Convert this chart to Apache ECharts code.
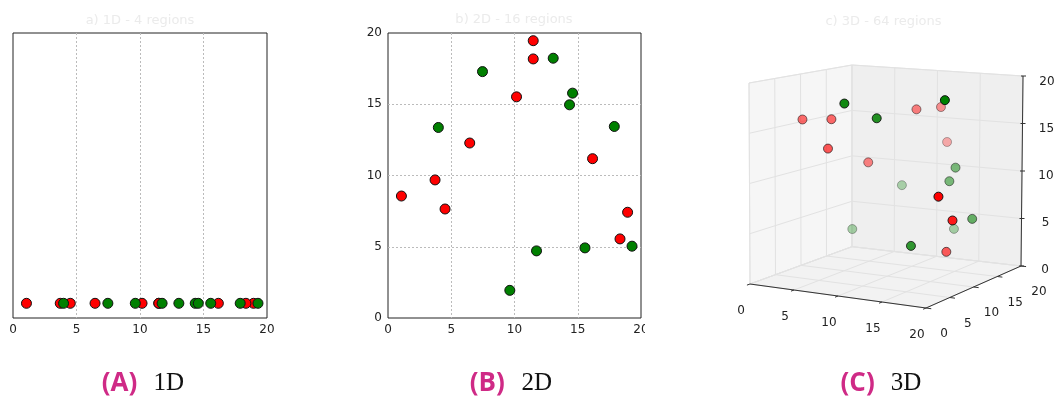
<!DOCTYPE html>
<html><head><meta charset="utf-8">
<script src="https://cdn.jsdelivr.net/npm/echarts@6/dist/echarts.min.js"></script>
<style>html,body{margin:0;padding:0;background:#fff}#c{width:1059px;height:401px}</style>
</head><body><div id="c"></div><script>
// ---------------- data ----------------
const tickValues = [0, 5, 10, 15, 20];
const redX   = [1.06, 3.72, 4.51, 6.46, 10.16, 11.48, 11.48, 16.17, 18.94, 18.34];
const redY   = [8.56, 9.69, 7.65, 12.28, 15.52, 19.46, 18.18, 11.18, 7.42, 5.55];
const redZ   = [15.5, 15.6, 12.9, 11.0, 16.4, 12.5, 16.4, 2.9, 7.0, 9.6];
const greenX = [3.98, 7.47, 9.63, 11.74, 13.06, 14.35, 14.59, 15.57, 17.89, 19.29];
const greenY = [13.37, 17.29, 1.94, 4.71, 18.23, 14.96, 15.78, 4.92, 13.44, 5.04];
const greenZ = [3.6, 7.9, 18.5, 16.9, 3.6, 9.3, 10.6, 4.6, 6.0, 19.2];
const panelTitles = ['a) 1D - 4 regions', 'b) 2D - 16 regions', 'c) 3D - 64 regions'];
const captionLetters = ['(A)', '(B)', '(C)'];
const captionWords = ['1D', '2D', '3D'];

// ---------------- layout / style ----------------
const AX_MIN = 0, AX_MAX = 20;
const RED = '#ff0000', GREEN = '#008000';
const FONT = '"DejaVu Sans", sans-serif';
// screen positions of the 8 corners of the 3D axes box (perspective approximated trilinearly)
const BOX = {
  c000: [750, 284], c100: [926, 308], c010: [852, 246.7], c110: [1021, 266],
  c001: [749, 83],  c101: [927, 98],  c011: [852, 65],    c111: [1023, 76]
};
const VIEW_AZ = 27.6 * Math.PI / 180, VIEW_EL = 15 * Math.PI / 180;

function lerp(a, b, f) { return [a[0] + (b[0] - a[0]) * f, a[1] + (b[1] - a[1]) * f]; }
function proj(x, y, z) {
  const s = (x - AX_MIN) / (AX_MAX - AX_MIN), t = (y - AX_MIN) / (AX_MAX - AX_MIN), r = (z - AX_MIN) / (AX_MAX - AX_MIN);
  const b0 = lerp(lerp(BOX.c000, BOX.c100, s), lerp(BOX.c010, BOX.c110, s), t);
  const b1 = lerp(lerp(BOX.c001, BOX.c101, s), lerp(BOX.c011, BOX.c111, s), t);
  return lerp(b0, b1, r);
}
function nearness(x, y, z) {
  return Math.cos(VIEW_EL) * (x * Math.sin(VIEW_AZ) - y * Math.cos(VIEW_AZ)) + Math.sin(VIEW_EL) * z;
}
function scatter3D(xs, ys, zs) {
  const d = xs.map((x, i) => nearness(x, ys[i], zs[i]));
  const mn = Math.min(...d), mx = Math.max(...d);
  return xs.map((x, i) => ({
    value: proj(x, ys[i], zs[i]),
    itemStyle: { opacity: 1 - 0.7 * (mx - d[i]) / (mx - mn) }
  }));
}

const chart = echarts.init(document.getElementById('c'), null, { renderer: 'canvas' });

const gridBase = { show: true, borderColor: '#222', borderWidth: 1, backgroundColor: '#fff', outerBoundsMode: 'none', containLabel: false };
const valAxis = (gi, show) => ({
  type: 'value', gridIndex: gi, min: AX_MIN, max: AX_MAX, interval: 5,
  axisLine: { show: false }, axisTick: { show: false },
  axisLabel: { show: show, color: '#222', fontSize: 12, fontFamily: FONT, margin: 6 },
  splitLine: { show: true, showMinLine: false, showMaxLine: false, lineStyle: { color: '#bbb', type: [2, 2], width: 1 } }
});
const markStyle = (c) => ({ color: c, borderColor: '#111', borderWidth: 1, opacity: 1 });

function boxRender(params, api) {
  if (params.dataIndex !== 0) return null;
  const P = (x, y, z) => api.coord(proj(x, y, z));
  const ch = [];
  const poly = (pts, fill) => ch.push({ type: 'polygon', shape: { points: pts }, style: { fill: fill, stroke: '#e6e6e6', lineWidth: 1 } });
  const seg = (a, b, stroke, w) => ch.push({ type: 'line', shape: { x1: a[0], y1: a[1], x2: b[0], y2: b[1] }, style: { stroke: stroke, lineWidth: w } });
  const L = AX_MIN, H = AX_MAX;
  poly([P(L, L, L), P(L, H, L), P(L, H, H), P(L, L, H)], '#f6f6f6');
  poly([P(L, H, L), P(H, H, L), P(H, H, H), P(L, H, H)], '#efefef');
  poly([P(L, L, L), P(H, L, L), P(H, H, L), P(L, H, L)], '#f2f2f2');
  const gc = '#e2e2e2';
  tickValues.forEach(v => {
    seg(P(v, L, L), P(v, H, L), gc, 1); seg(P(L, v, L), P(H, v, L), gc, 1);
    seg(P(L, v, L), P(L, v, H), gc, 1); seg(P(L, L, v), P(L, H, v), gc, 1);
    seg(P(v, H, L), P(v, H, H), gc, 1); seg(P(L, H, v), P(H, H, v), gc, 1);
  });
  const ac = '#333';
  seg(P(L, L, L), P(H, L, L), ac, 1);
  seg(P(H, L, L), P(H, H, L), ac, 1);
  seg(P(H, H, L), P(H, H, H), ac, 1);
  const txt = (p, s) => ch.push({ type: 'text', x: p[0], y: p[1], style: { text: s, fill: '#222', font: '12px ' + FONT, align: 'center', verticalAlign: 'middle' } });
  tickValues.forEach(v => {
    seg(P(v, L, L), P(v, L - 0.6, L), ac, 1);
    seg(P(H, v, L), P(H + 0.6, v, L), ac, 1);
    const zp = P(H, H, v);
    seg([zp[0] - 2, zp[1]], [zp[0] + 3, zp[1]], ac, 1);
    const xp = P(v, L, L); txt([xp[0] - 9, xp[1] + 27], String(v));
    const yp = P(H, v, L); txt([yp[0] + 18, yp[1] + 26], String(v));
    txt([zp[0] + 24, zp[1] + 4 + v * 0.1], String(v));
  });
  return { type: 'group', children: ch };
}

const option = {
  animation: false,
  backgroundColor: '#fff',
  grid: [
    Object.assign({ left: 13, top: 33, width: 254, height: 285 }, gridBase),
    Object.assign({ left: 388, top: 33, width: 253, height: 285 }, gridBase),
    { left: 0, top: 0, width: 1059, height: 401, show: false, outerBoundsMode: 'none', containLabel: false }
  ],
  xAxis: [
    valAxis(0, true),
    valAxis(1, true),
    { type: 'value', gridIndex: 2, min: 0, max: 1059, show: false }
  ],
  yAxis: [
    { type: 'value', gridIndex: 0, min: -0.05, max: 0.92, show: false },
    valAxis(1, true),
    { type: 'value', gridIndex: 2, min: 0, max: 401, inverse: true, show: false }
  ],
  series: [
    { type: 'scatter', xAxisIndex: 0, yAxisIndex: 0, symbolSize: 10, itemStyle: markStyle(RED),
      data: redX.map(x => [x, 0]) },
    { type: 'scatter', xAxisIndex: 0, yAxisIndex: 0, symbolSize: 10, itemStyle: markStyle(GREEN),
      data: greenX.map(x => [x, 0]) },
    { type: 'scatter', xAxisIndex: 1, yAxisIndex: 1, symbolSize: 10, itemStyle: markStyle(RED),
      data: redX.map((x, i) => [x, redY[i]]) },
    { type: 'scatter', xAxisIndex: 1, yAxisIndex: 1, symbolSize: 10, itemStyle: markStyle(GREEN),
      data: greenX.map((x, i) => [x, greenY[i]]) },
    { type: 'custom', xAxisIndex: 2, yAxisIndex: 2, renderItem: boxRender, data: [[0]], z: 1, silent: true },
    { type: 'scatter', xAxisIndex: 2, yAxisIndex: 2, symbolSize: 9, itemStyle: markStyle(RED), z: 3,
      data: scatter3D(redX, redY, redZ) },
    { type: 'scatter', xAxisIndex: 2, yAxisIndex: 2, symbolSize: 9, itemStyle: markStyle(GREEN), z: 3,
      data: scatter3D(greenX, greenY, greenZ) }
  ],
  graphic: [
    { type: 'rect', shape: { x: 645, y: 321, width: 60, height: 22 }, style: { fill: '#fff' }, z: 100 },
    ...panelTitles.map((t, i) => ({
      type: 'text', x: [140, 514, 883.5][i], y: [20.5, 20, 21.7][i], z: 100,
      style: { text: t, fill: '#ebebeb', font: '13px ' + FONT, align: 'center', verticalAlign: 'middle' }
    })),
    ...captionLetters.map((t, i) => ({
      type: 'text', x: [101.8, 469.8, 840.5][i], y: 384, z: 100,
      style: { text: t, fill: '#cf2a86', font: 'bold 26px "Open Sans", "DejaVu Sans", sans-serif', align: 'left', verticalAlign: 'middle' }
    })),
    ...captionWords.map((t, i) => ({
      type: 'text', x: [153.4, 521.4, 890.7][i], y: 383.5, z: 100,
      style: { text: t, fill: '#111', font: '25px "Liberation Serif", "DejaVu Serif", serif', align: 'left', verticalAlign: 'middle' }
    }))
  ]
};
chart.setOption(option);
</script></body></html>
